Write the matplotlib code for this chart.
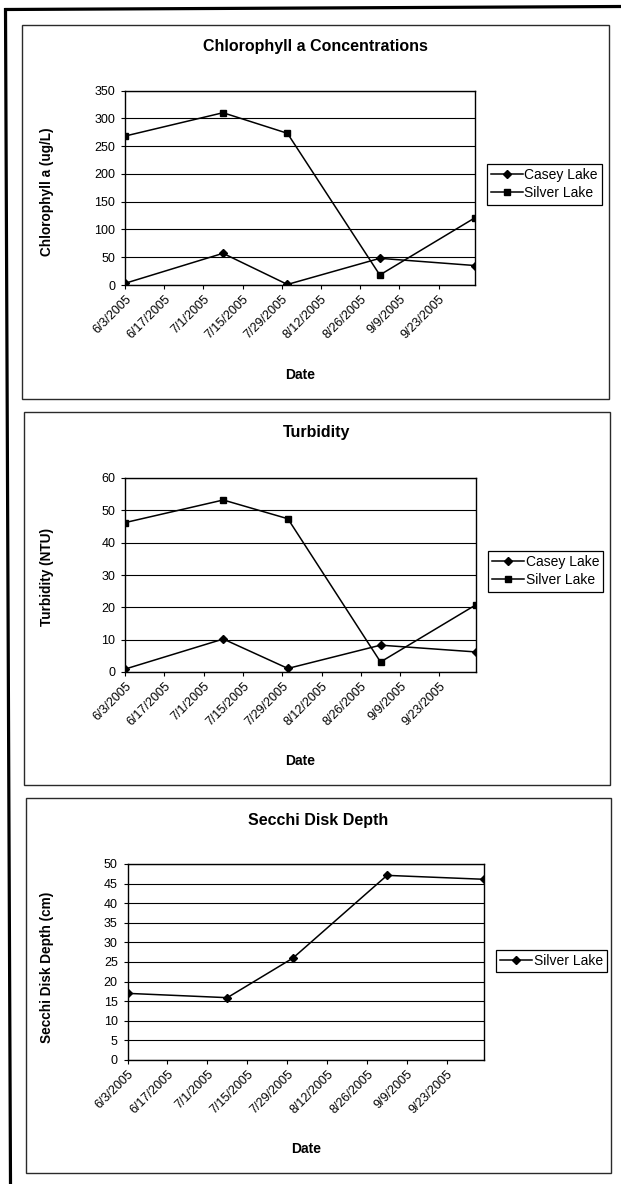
import datetime as dt
import matplotlib
matplotlib.use("Agg")
import matplotlib.pyplot as plt
import matplotlib.dates as mdates
from matplotlib.lines import Line2D
from matplotlib.patches import Rectangle
from matplotlib.ticker import FuncFormatter, MultipleLocator

plt.rcParams["font.family"] = ["Liberation Sans", "DejaVu Sans"]

# Sampling dates
sample_dates = ["2005-06-03", "2005-07-08", "2005-07-31", "2005-09-02", "2005-10-06"]

# Chlorophyll a (ug/L)
chl_casey = [3, 57, 1, 48, 35]
chl_silver = [268, 310, 273, 18, 121]

# Turbidity (NTU)
turb_casey = [0.9, 10.2, 1.1, 8.3, 6.2]
turb_silver = [46.2, 53.2, 47.4, 3.1, 20.8]

# Secchi disk depth (cm)
secchi_silver = [17.0, 15.9, 26.0, 47.1, 46.1]

axis_start = "2005-06-03"
axis_end = "2005-10-06"
tick_step_days = 14

W, H = 621, 1184
fig = plt.figure(figsize=(W / 100, H / 100), dpi=100)

dates = [dt.datetime.strptime(s, "%Y-%m-%d") for s in sample_dates]
x0 = dt.datetime.strptime(axis_start, "%Y-%m-%d")
x1 = dt.datetime.strptime(axis_end, "%Y-%m-%d")


def fx(x):
    return x / W


def fy(y):
    return 1 - y / H


def date_label(v, pos):
    d = mdates.num2date(v)
    return f"{d.month}/{d.day}/{d.year}"


# Outer page frame (left and top rules)
fig.add_artist(Line2D([fx(5.5), fx(10.5)], [fy(8), 0], color="black", lw=2.3,
                      transform=fig.transFigure, solid_capstyle="butt"))
fig.add_artist(Line2D([fx(4.5), 1], [fy(9.5), fy(6.5)], color="black", lw=2.3,
                      transform=fig.transFigure, solid_capstyle="butt"))


def panel(box, plot, title, ylabel, ymax, ystep, series, legend_xy,
          title_y, xlabel_y, ylabel_y):
    bx0, by0, bx1, by1 = box
    fig.add_artist(Rectangle((fx(bx0), fy(by1)), fx(bx1) - fx(bx0), fy(by0) - fy(by1),
                             transform=fig.transFigure, fill=False,
                             edgecolor="#2a2a2a", lw=1.0))
    px0, py0, px1, py1 = plot
    ax = fig.add_axes([fx(px0), fy(py1), fx(px1) - fx(px0), fy(py0) - fy(py1)])
    for yv, st in series:
        ax.plot(dates, yv, **st)
    ax.set_xlim(x0, x1)
    ax.set_ylim(0, ymax)
    ticks = []
    d = x0
    while d < x1:
        ticks.append(d)
        d += dt.timedelta(days=tick_step_days)
    ax.set_xticks(ticks)
    ax.xaxis.set_major_formatter(FuncFormatter(date_label))
    ax.yaxis.set_major_locator(MultipleLocator(ystep))
    ax.grid(axis="y", color="black", lw=0.8)
    ax.set_axisbelow(True)
    for s in ax.spines.values():
        s.set_color("black")
        s.set_linewidth(1.0)
    ax.tick_params(axis="x", direction="out", length=3, width=0.8,
                   labelsize=9, pad=3)
    ax.tick_params(axis="y", direction="out", length=3, width=0.8,
                   labelsize=9, pad=4)
    for lab in ax.get_xticklabels():
        lab.set_rotation(45)
        lab.set_ha("right")
        lab.set_va("top")
        lab.set_rotation_mode("anchor")
    fig.text(fx((bx0 + bx1) / 2), fy(title_y), title, ha="center", va="center",
             fontsize=11.5, fontweight="bold")
    fig.text(fx((px0 + px1) / 2), fy(xlabel_y), "Date",
             ha="center", va="center", fontsize=10, fontweight="bold")
    fig.text(fx(47), fy(ylabel_y), ylabel,
             ha="center", va="center", rotation=90, fontsize=9.8,
             fontweight="bold")
    lx, ly = legend_xy
    leg = ax.legend(loc="upper left", bbox_to_anchor=(fx(lx), fy(ly)),
                    bbox_transform=fig.transFigure, frameon=True, fancybox=False,
                    edgecolor="black", framealpha=1, fontsize=10,
                    handlelength=2.3, handletextpad=0.1, borderpad=0.3,
                    labelspacing=0.3, borderaxespad=0)
    leg.get_frame().set_linewidth(0.9)
    return ax


casey_style = dict(color="black", lw=1.1, marker="D", markersize=4, label="Casey Lake")
silver_sq = dict(color="black", lw=1.1, marker="s", markersize=5, label="Silver Lake")
silver_dia = dict(color="black", lw=1.1, marker="D", markersize=4, label="Silver Lake")

panel((22, 25, 609, 399), (125, 90.5, 475, 285), "Chlorophyll a Concentrations",
      "Chlorophyll a (ug/L)", 350, 50,
      [(chl_casey, casey_style), (chl_silver, silver_sq)],
      (487, 164), 46, 375, 192)

panel((23.8, 412, 610, 785), (125, 478, 476, 672), "Turbidity",
      "Turbidity (NTU)", 60, 10,
      [(turb_casey, casey_style), (turb_silver, silver_sq)],
      (488, 551), 433, 761, 577)

panel((25.7, 798, 611, 1173), (127.5, 864, 484, 1060), "Secchi Disk Depth",
      "Secchi Disk Depth (cm)", 50, 5,
      [(secchi_silver, silver_dia)],
      (496, 950), 820, 1149, 967)

fig.savefig("out.png", dpi=100)
